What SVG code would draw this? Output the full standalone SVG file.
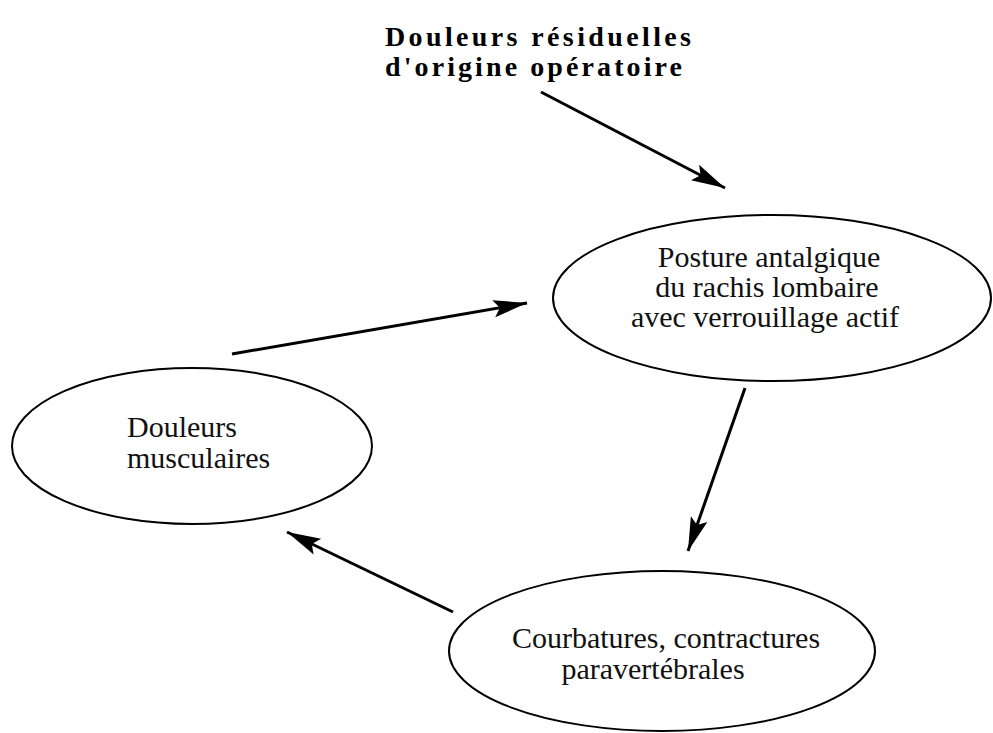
<svg xmlns="http://www.w3.org/2000/svg" width="993" height="733" viewBox="0 0 993 733">
<style>
.node{fill:none;stroke:#000;stroke-width:2}
.lbl{font-family:"Liberation Serif","Times New Roman",serif;font-size:30px;fill:#111}
.title{font-family:"Liberation Serif","Times New Roman",serif;font-size:28px;font-weight:bold;fill:#000}
.edge{stroke:#000;stroke-width:3;fill:none;marker-end:url(#ah)}
</style>
<defs>
<marker id="ah" markerUnits="userSpaceOnUse" markerWidth="40" markerHeight="30" viewBox="-30 -10 32 20" refX="0" refY="0" orient="auto">
<path d="M0,0 L-27,-7 L-22,0 L-27,7 Z" fill="#000"/>
</marker>
</defs>
<rect width="993" height="733" fill="#fff"/>
<g id="title">
<text class="title" x="385" y="46" textLength="306" lengthAdjust="spacing">Douleurs  résiduelles</text>
<text class="title" x="385" y="76" textLength="297" lengthAdjust="spacing">d'origine  opératoire</text>
</g>
<g id="posture">
<ellipse class="node" cx="772" cy="298" rx="219" ry="83"/>
<text class="lbl" x="769" y="267" text-anchor="middle">Posture antalgique</text>
<text class="lbl" x="767" y="297" text-anchor="middle">du rachis lombaire</text>
<text class="lbl" x="765" y="327" text-anchor="middle">avec verrouillage actif</text>
</g>
<g id="douleurs">
<ellipse class="node" cx="192" cy="446" rx="180" ry="78"/>
<text class="lbl" x="127" y="437">Douleurs</text>
<text class="lbl" x="127" y="468">musculaires</text>
</g>
<g id="courbatures">
<ellipse class="node" cx="662" cy="651" rx="213" ry="80"/>
<text class="lbl" x="666" y="648" text-anchor="middle">Courbatures, contractures</text>
<text class="lbl" x="653" y="679" text-anchor="middle">paravertébrales</text>
</g>
<g id="connectors">
<line class="edge" x1="541" y1="92" x2="725" y2="188"/>
<line class="edge" x1="232" y1="354" x2="527" y2="303"/>
<line class="edge" x1="745" y1="388" x2="688" y2="551"/>
<line class="edge" x1="453" y1="612" x2="287" y2="532"/>
</g>
</svg>
